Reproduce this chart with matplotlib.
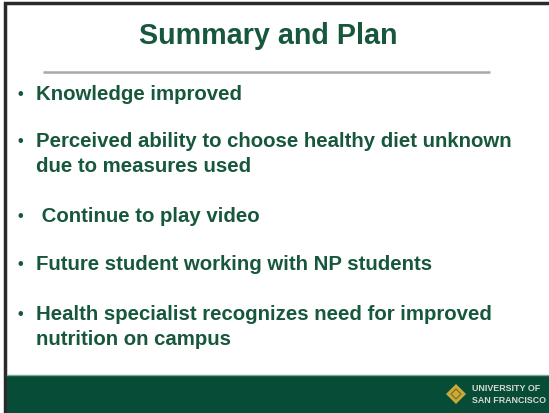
import matplotlib
matplotlib.use("Agg")
import matplotlib.pyplot as plt
from matplotlib.patches import Rectangle, Polygon

# Slide content
title = "Summary and Plan"
bullets = [
    ["Knowledge improved"],
    ["Perceived ability to choose healthy diet unknown", "due to measures used"],
    [" Continue to play video"],
    ["Future student working with NP students"],
    ["Health specialist recognizes need for improved", "nutrition on campus"],
]
bullet_y = [95, 142, 217, 265, 315]
logo_lines = ["UNIVERSITY OF", "SAN FRANCISCO"]

W, H = 549, 414
text_green = "#17583c"
footer_green = "#064c37"
gold = "#c9a93a"

plt.rcParams["font.family"] = ["Liberation Sans", "DejaVu Sans"]

fig = plt.figure(figsize=(W / 100, H / 100), dpi=100)
ax = fig.add_axes([0, 0, 1, 1])
ax.set_xlim(0, W)
ax.set_ylim(H, 0)
ax.axis("off")

# dark frame on left and top edges only
ax.plot([5, 5, W], [H, 3.5, 3.5], color="#2a2a2a", linewidth=2.5,
        solid_joinstyle="miter")

# title and rule
ax.text(268, 36, title, ha="center", va="center", fontsize=20.7,
        fontweight="bold", color=text_green)
ax.plot([43, 490], [73, 73], color="#a8a8a8", linewidth=1.8,
        solid_capstyle="butt")

# bullets
line_gap = 25
for lines, y in zip(bullets, bullet_y):
    ax.text(20, y, "\u2022", ha="center", va="center", fontsize=11.5,
            fontweight="bold", color=text_green)
    for k, line in enumerate(lines):
        ax.text(36, y + k * line_gap, line, ha="left", va="center",
                fontsize=14.7, fontweight="bold", color=text_green)

# footer band with thin light edge
ax.add_patch(Rectangle((6.5, 376), W, H - 376, facecolor=footer_green,
                       edgecolor="none", zorder=2))
ax.plot([6.5, W], [375.5, 375.5], color="#7fa894", linewidth=1, zorder=3)

# logo: diamond emblem and wordmark
cx, cy, r = 456, 395, 10
ax.add_patch(Polygon([(cx - r, cy), (cx, cy - r), (cx + r, cy), (cx, cy + r)],
                     closed=True, facecolor=gold, edgecolor="none", zorder=3))
ax.add_patch(Polygon([(cx - 5, cy), (cx, cy - 5), (cx + 5, cy), (cx, cy + 5)],
                     closed=True, facecolor="none", edgecolor="#7a6a1e",
                     linewidth=0.8, zorder=4))
for k, word in enumerate(logo_lines):
    ax.text(472, 389 + k * 12, word, ha="left", va="center", fontsize=6.4,
            fontweight="bold", color="#d8d8d0", zorder=4)

fig.savefig("out.png", dpi=100)
